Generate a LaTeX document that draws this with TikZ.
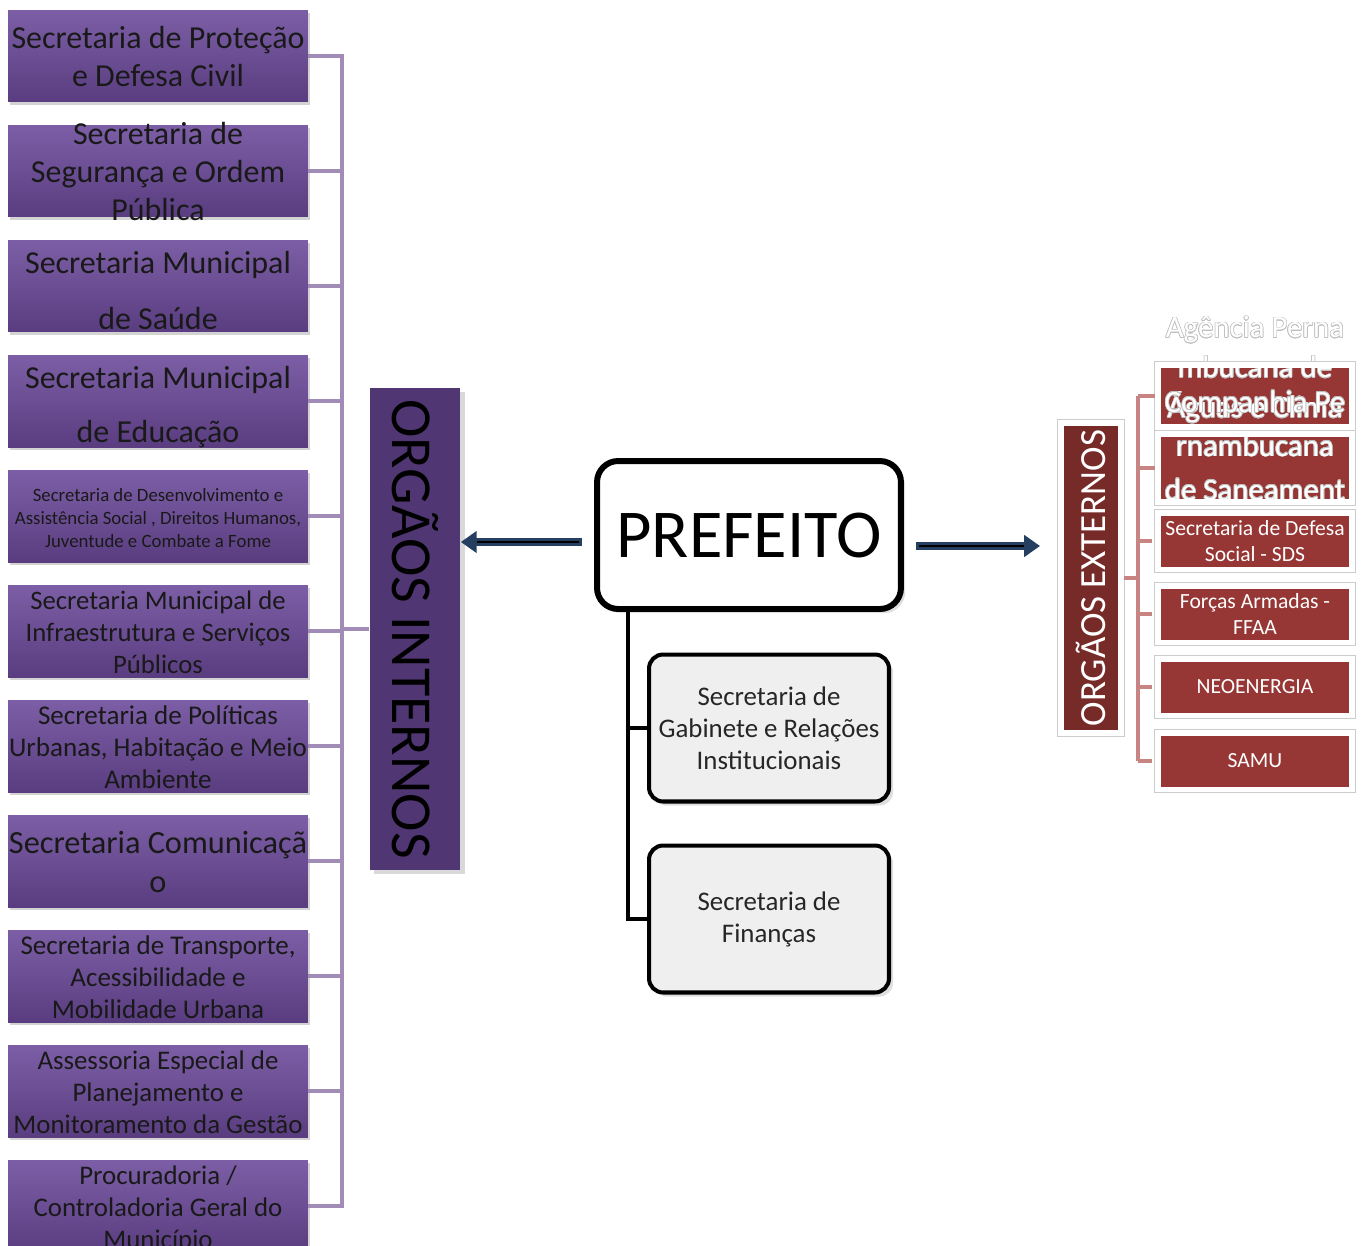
\documentclass[tikz,border=0pt]{standalone}
\usepackage{fontspec}
\setmainfont{Carlito}
\usepackage{contour}
\usetikzlibrary{positioning,shadows,arrows.meta,calc}

\definecolor{roxoA}{RGB}{124,94,166}
\definecolor{roxoB}{RGB}{90,61,128}
\definecolor{roxoEsc}{RGB}{80,54,114}
\definecolor{roxoLinha}{RGB}{160,140,182}
\definecolor{vermelho}{RGB}{150,55,53}
\definecolor{vermEsc}{RGB}{119,43,41}
\definecolor{vermLinha}{RGB}{200,132,130}
\definecolor{azulSeta}{RGB}{36,63,96}
\definecolor{cinzaCx}{RGB}{239,239,239}

\newcommand{\caixa}[3]{\parbox[c][1.84cm][c]{6cm}{\makebox[6cm]{\fontsize{#1}{#2}\selectfont\raisebox{-2.2pt}[\height][\depth]{\begin{tabular}{@{}c@{}}#3\end{tabular}}}}}
\contourlength{0.35pt}

\begin{document}
\begin{tikzpicture}[x=0.02cm, y=-0.02cm,
    lbox/.style={top color=roxoA, bottom color=roxoB, draw=none, inner sep=0pt, text=black!90,
                 drop shadow={opacity=0.35, shadow xshift=1pt, shadow yshift=-1.5pt}},
    rbox/.style={fill=vermelho, text=white, draw=white, line width=3.4pt,
                 preaction={draw=black!20, line width=4.5pt},
                 minimum width=3.88cm, minimum height=1.14cm, align=center,
                 font=\fontsize{12.3}{14.8}\selectfont},
    rfundo/.style={fill=vermelho, draw=none, minimum width=3.88cm},
    moldura/.style={draw=white, line width=3.4pt},
    contorno/.style={draw=black!20, line width=0.6pt},
    cbox/.style={draw=black, line width=2.3pt, rounded corners=8pt, fill=cinzaCx,
                 minimum width=4.8cm, minimum height=2.94cm, align=center, text=black!85,
                 font=\fontsize{15.3}{18.2}\selectfont, drop shadow={opacity=0.25}},
    txtfora/.style={text=white, align=center},
    lline/.style={draw=roxoLinha, line width=2.3pt},
    rline/.style={draw=vermLinha, line width=2.3pt},
    tronco/.style={draw=black, line width=2.3pt},
    seta/.style={draw=azulSeta, line width=4pt, -{Triangle[length=9pt,width=12pt,fill=azulSeta]}},
    setameio/.style={draw=black, line width=1.1pt, shorten >=9pt, shorten <=1.5pt}]
    \useasboundingbox (0,0) rectangle (1363,1245);

    \node[lbox] (sec1)  at (158,56)   {\caixa{18.2}{21.6}{Secretaria de Proteção\\e Defesa Civil}};
    \node[lbox] (sec2)  at (158,171)  {\caixa{18.2}{21.6}{Secretaria de\\Segurança e Ordem\\Pública}};
    \node[lbox] (sec3)  at (158,286)  {\caixa{18.2}{31.9}{Secretaria Municipal\\de Saúde}};
    \node[lbox] (sec4)  at (158,401)  {\caixa{18.2}{30.7}{Secretaria Municipal\\de Educação}};
    \node[lbox] (sec5)  at (158,516)  {\caixa{10.7}{13.1}{Secretaria de Desenvolvimento e\\Assistência Social , Direitos Humanos,\\Juventude e Combate a Fome}};
    \node[lbox] (sec6)  at (158,631)  {\caixa{15.2}{18.2}{Secretaria Municipal de\\Infraestrutura e Serviços\\Públicos}};
    \node[lbox] (sec7)  at (158,746)  {\caixa{15.4}{18.2}{Secretaria de Políticas\\Urbanas, Habitação e Meio\\Ambiente}};
    \node[lbox] (sec8)  at (158,861)  {\caixa{18.4}{22.2}{Secretaria Comunicaçã\\o}};
    \node[lbox] (sec9)  at (158,976)  {\caixa{15.4}{18.2}{Secretaria de Transporte,\\Acessibilidade e\\Mobilidade Urbana}};
    \node[lbox] (sec10) at (158,1091) {\caixa{15.3}{18.2}{Assessoria Especial de\\Planejamento e\\Monitoramento da Gestão}};
    \node[lbox] (sec11) at (158,1206) {\caixa{15.3}{18.2}{Procuradoria /\\Controladoria Geral do\\Município}};

    \node[fill=roxoEsc, rotate=-90, minimum width=9.64cm, minimum height=1.82cm,
          font=\fontsize{33}{33}\selectfont, drop shadow={opacity=0.3}] (internos) at (415,629) {ORGÃOS INTERNOS};

    \node[draw=black, line width=3.4pt, rounded corners=12pt, fill=white, minimum width=6.08cm,
          minimum height=2.96cm, font=\fontsize{39}{39}\selectfont, drop shadow={opacity=0.25}] (prefeito) at (749,535) {PREFEITO};
    \node[cbox] (gabinete) at (769,728) {Secretaria de\\Gabinete e Relações\\Institucionais};
    \node[cbox] (financas) at (769,919) {Secretaria de\\Finanças};

    \node[rbox, fill=vermEsc, rotate=90, minimum width=6.2cm, minimum height=1.2cm,
          font=\fontsize{21}{21}\selectfont] (externos) at (1091,578) {ORGÃOS EXTERNOS};
    \node[rfundo, minimum height=1.24cm] (agencia) at (1255,396) {};
    \node[rfundo, minimum height=1.34cm] (compesa) at (1255,468) {};
    \node[rbox] (sds)  at (1255,541) {Secretaria de Defesa\\Social - SDS};
    \node[rbox] (ffaa) at (1255,614) {Forças Armadas -\\FFAA};
    \node[rbox] (neo)  at (1255,687) {NEOENERGIA};
    \node[rbox] (samu) at (1255,761) {SAMU};
    \node[txtfora, font=\fontsize{17.6}{22.8}\selectfont] (agenciatxt) at (1255,370)
        {\contour{black!25}{Agência Perna}\\\contour{black!25}{mbucana de}\\\contour{black!25}{Águas e Clima}};
    \node[txtfora, font=\fontsize{17.6}{25}\selectfont] (compesatxt) at (1255,446)
        {\contour{black!25}{Companhia Pe}\\\contour{black!25}{rnambucana}\\\contour{black!25}{de Saneament}};
    \foreach \b in {agencia,compesa} {
        \draw[contorno] ([shift={(-2pt,-2pt)}]\b.south west) rectangle ([shift={(2pt,2pt)}]\b.north east);
        \draw[moldura] (\b.south west) rectangle (\b.north east);
    }

    \coordinate (ltronco) at (342,629);
    \draw[lline] (sec1.east) -- (sec1.east -| ltronco) -- (sec11.east -| ltronco) -- (sec11.east);
    \foreach \n in {2,...,10}
        \draw[lline] (sec\n.east) -- (sec\n.east -| ltronco);
    \draw[lline] (ltronco) -- (internos.south);

    \coordinate (ptronco) at (628,612);
    \draw[tronco] (prefeito.south -| ptronco) |- (gabinete.west);
    \draw[tronco] (prefeito.south -| ptronco) |- (financas.west);

    \coordinate (rtronco) at (1138,578);
    \draw[rline] (agencia.west -| rtronco) -- (samu.west -| rtronco);
    \draw[rline] (externos.south) -- (rtronco);
    \foreach \b in {agencia,compesa,sds,ffaa,neo,samu}
        \draw[rline] (\b.west -| rtronco) -- ([xshift=-1.7pt]\b.west);

    \coordinate (sA) at ($(prefeito.west)+(-12,7)$);
    \draw[seta] (sA) -- (sA -| internos.north);
    \draw[setameio] (sA) -- (sA -| internos.north);
    \coordinate (sB) at ($(prefeito.east)+(12,11)$);
    \coordinate (sBfim) at ($(externos.north)+(-18,0)$);
    \draw[seta] (sB) -- (sB -| sBfim);
    \draw[setameio] (sB) -- (sB -| sBfim);
\end{tikzpicture}
\end{document}
